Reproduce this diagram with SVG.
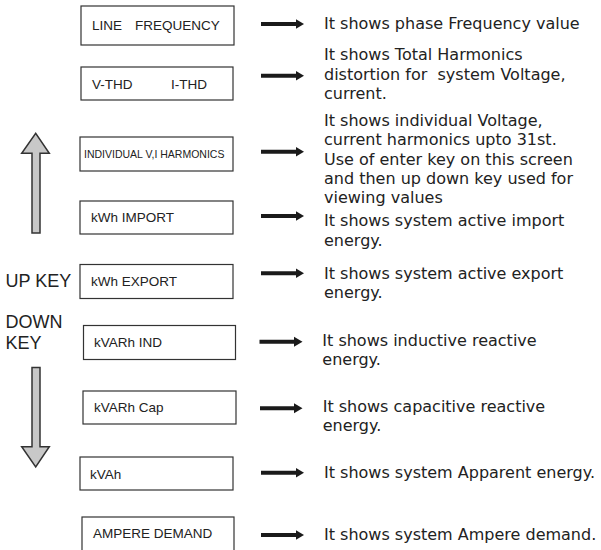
<svg xmlns="http://www.w3.org/2000/svg" width="601" height="550" viewBox="0 0 601 550">
<style>
.box{fill:#fff;stroke:#333;stroke-width:1.2}
.bt{font-family:"Liberation Sans",Arial,sans-serif;font-size:13.5px;fill:#222}
.desc{font-family:"DejaVu Sans",Verdana,sans-serif;font-size:16px;fill:#222}
.key{font-family:"Liberation Sans",Arial,sans-serif;font-size:18px;fill:#222}
.conn{stroke:#1a1a1a;stroke-width:4;fill:none;marker-end:url(#ah)}
.big{fill:#c8c8c8;stroke:#333;stroke-width:1.5;stroke-linejoin:miter}
</style>
<defs>
<marker id="ah" markerUnits="userSpaceOnUse" markerWidth="10" markerHeight="11" refX="0.5" refY="5.5" orient="auto" viewBox="0 0 10 11">
<path d="M0,0.5 L8.5,5.5 L0,10.5 z" fill="#1a1a1a"/>
</marker>
</defs>
<rect width="601" height="550" fill="#fff"/>

<g id="n-line-frequency">
<rect class="box" x="81" y="6" width="153" height="39"/>
<text class="bt" x="92" y="29.5">LINE</text>
<text class="bt" x="135" y="29.5">FREQUENCY</text>
</g>
<g id="n-thd">
<rect class="box" x="81" y="67" width="152" height="33"/>
<text class="bt" x="92" y="88.5">V-THD</text>
<text class="bt" x="171" y="88.5">I-THD</text>
</g>
<g id="n-harmonics">
<rect class="box" x="80" y="137" width="153" height="34"/>
<text class="bt" x="84" y="158" style="font-size:10.5px">INDIVIDUAL V,I HARMONICS</text>
</g>
<g id="n-kwh-import">
<rect class="box" x="80" y="201" width="153" height="33"/>
<text class="bt" x="91" y="222">kWh IMPORT</text>
</g>
<g id="n-kwh-export">
<rect class="box" x="80" y="264.5" width="153" height="34"/>
<text class="bt" x="91" y="286">kWh EXPORT</text>
</g>
<g id="n-kvarh-ind">
<rect class="box" x="83.5" y="325.5" width="152" height="34"/>
<text class="bt" x="94" y="347">kVARh IND</text>
</g>
<g id="n-kvarh-cap">
<rect class="box" x="83" y="391" width="153" height="33"/>
<text class="bt" x="94" y="412">kVARh Cap</text>
</g>
<g id="n-kvah">
<rect class="box" x="80" y="457" width="153" height="33"/>
<text class="bt" x="90" y="478.5">kVAh</text>
</g>
<g id="n-ampere-demand">
<rect class="box" x="82" y="517" width="152" height="40"/>
<text class="bt" x="93" y="538">AMPERE DEMAND</text>
</g>

<g id="keys">
<path class="big" d="M32,233 L32,153.3 L21.7,153.3 L35.7,133.3 L49.3,153.3 L40,153.3 L40,233 Z"/>
<path class="big" d="M32,367.5 L32,446.7 L21.7,446.7 L35.7,467 L49.3,446.7 L40,446.7 L40,367.5 Z"/>
<text class="key" x="5.5" y="287">UP KEY</text>
<text class="key" x="5.5" y="328">DOWN</text>
<text class="key" x="5.5" y="349">KEY</text>
</g>

<g id="connectors">
<line class="conn" x1="261" y1="24" x2="296" y2="24"/>
<line class="conn" x1="261" y1="75.7" x2="296" y2="75.7"/>
<line class="conn" x1="261" y1="151.7" x2="296" y2="151.7"/>
<line class="conn" x1="261" y1="216" x2="296" y2="216"/>
<line class="conn" x1="261" y1="273.3" x2="296" y2="273.3"/>
<line class="conn" x1="259.5" y1="341.7" x2="294.5" y2="341.7"/>
<line class="conn" x1="260" y1="408.3" x2="294.5" y2="408.3"/>
<line class="conn" x1="261" y1="472.7" x2="296" y2="472.7"/>
<line class="conn" x1="261" y1="535" x2="296" y2="535"/>
</g>

<g id="descriptions">
<text class="desc" x="324" y="28.5">It shows phase Frequency value</text>
<text class="desc" x="324" y="60">It shows Total Harmonics</text>
<text class="desc" x="324" y="79.5" xml:space="preserve">distortion for  system Voltage,</text>
<text class="desc" x="324" y="99">current.</text>
<text class="desc" x="324" y="126">It shows individual Voltage,</text>
<text class="desc" x="324" y="145.3">current harmonics upto 31st.</text>
<text class="desc" x="324" y="164.7">Use of enter key on this screen</text>
<text class="desc" x="324" y="184">and then up down key used for</text>
<text class="desc" x="324" y="203.3">viewing values</text>
<text class="desc" x="324" y="226">It shows system active import</text>
<text class="desc" x="324" y="245.5">energy.</text>
<text class="desc" x="324" y="279">It shows system active export</text>
<text class="desc" x="324" y="298">energy.</text>
<text class="desc" x="322.3" y="346">It shows inductive reactive</text>
<text class="desc" x="322.3" y="365.3">energy.</text>
<text class="desc" x="322.7" y="411.7">It shows capacitive reactive</text>
<text class="desc" x="322.7" y="431.3">energy.</text>
<text class="desc" x="324" y="478.3">It shows system Apparent energy.</text>
<text class="desc" x="324" y="540">It shows system Ampere demand.</text>
</g>
</svg>
